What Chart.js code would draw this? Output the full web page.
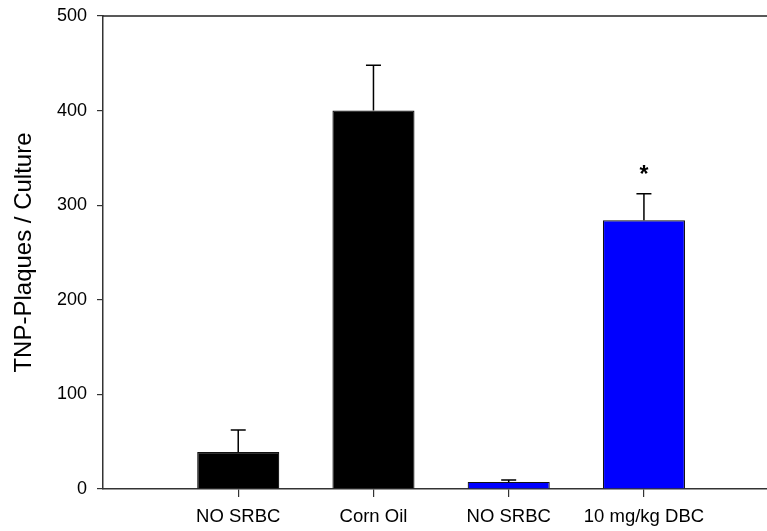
<!DOCTYPE html>
<html>
<head>
<meta charset="utf-8">
<script src="https://cdn.jsdelivr.net/npm/chart.js@4.4.0/dist/chart.umd.min.js"></script>
<style>
  html, body { margin: 0; padding: 0; background: #fff; }
  #wrap { width: 767px; height: 531px; position: relative; }
</style>
</head>
<body>
<div id="wrap"><canvas id="chart"></canvas></div>
<script>
// data
const groups = ['NO SRBC', 'Corn Oil', 'NO SRBC', '10 mg/kg DBC'];
const positions = [1, 2, 3, 4];
const means = [39, 400, 7.5, 284];
const errors = [23.5, 48, 2, 28];
const marks = ['', '', '', '*'];
const barColors = ['#000000', '#000000', '#0000ff', '#0000ff'];
const yTicks = [0, 100, 200, 300, 400, 500];

const FONT = '"Liberation Sans", Arial, sans-serif';

// upper error bars + significance marks
const errorBars = {
    id: 'errorBars',
    afterDatasetsDraw(chart) {
        const ctx = chart.ctx;
        const xs = chart.scales.x, ys = chart.scales.y;
        ctx.save();
        ctx.strokeStyle = '#000';
        ctx.lineWidth = 1.5;
        positions.forEach((p, i) => {
            const x = xs.getPixelForValue(p);
            const yTop = ys.getPixelForValue(means[i]);
            const yErr = ys.getPixelForValue(means[i] + errors[i]);
            ctx.beginPath();
            ctx.moveTo(x, yTop);
            ctx.lineTo(x, yErr);
            ctx.moveTo(x - 7.5, yErr);
            ctx.lineTo(x + 7.5, yErr);
            ctx.stroke();
            if (marks[i]) {
                ctx.fillStyle = '#000';
                ctx.font = 'bold 23px ' + FONT;
                ctx.textAlign = 'center';
                ctx.textBaseline = 'middle';
                ctx.fillText(marks[i], x, yErr - 18);
            }
        });
        // top frame line
        const a = chart.chartArea;
        ctx.lineWidth = 1.5;
        ctx.strokeStyle = '#222';
        ctx.beginPath();
        ctx.moveTo(a.left, a.top);
        ctx.lineTo(chart.width, a.top);
        ctx.stroke();
        ctx.restore();
    }
};

new Chart(document.getElementById('chart'), {
    type: 'bar',
    data: {
        datasets: [{
            data: positions.map((p, i) => ({ x: p, y: means[i] })),
            backgroundColor: barColors,
            borderColor: '#111',
            borderWidth: 1.2,
            barPercentage: 0.607,
            categoryPercentage: 1
        }]
    },
    options: {
        responsive: true,
        maintainAspectRatio: false,
        animation: false,
        layout: { padding: { top: 16, right: 0, left: 0, bottom: 0 } },
        plugins: { legend: { display: false }, tooltip: { enabled: false } },
        scales: {
            x: {
                type: 'linear',
                min: 0,
                max: 4.91,
                offset: false,
                afterBuildTicks: (s) => { s.ticks = positions.map(v => ({ value: v })); },
                afterFit: (s) => { s.height = 42; },
                ticks: {
                    color: '#000',
                    font: { family: FONT, size: 18.5 },
                    padding: 9,
                    maxRotation: 0,
                    autoSkip: false,
                    callback: (v) => groups[positions.indexOf(v)] || ''
                },
                grid: { offset: false, drawOnChartArea: false, tickLength: 8, color: '#333', lineWidth: 1.2 },
                border: { display: true, color: '#333', width: 1.5 }
            },
            y: {
                min: 0,
                max: 500,
                afterBuildTicks: (s) => { s.ticks = yTicks.map(v => ({ value: v })); },
                afterFit: (s) => { s.width = 103; s.paddingTop = 0; s.paddingBottom = 0; },
                ticks: {
                    color: '#000',
                    font: { family: FONT, size: 18 },
                    padding: 10
                },
                grid: { drawOnChartArea: false, tickLength: 6, color: '#333', lineWidth: 1.2 },
                border: { display: true, color: '#333', width: 1.5 },
                title: {
                    display: true,
                    text: 'TNP-Plaques / Culture',
                    color: '#000',
                    font: { family: FONT, size: 24 },
                    padding: { top: 10, bottom: 0 }
                }
            }
        }
    },
    plugins: [errorBars]
});
</script>
</body>
</html>
